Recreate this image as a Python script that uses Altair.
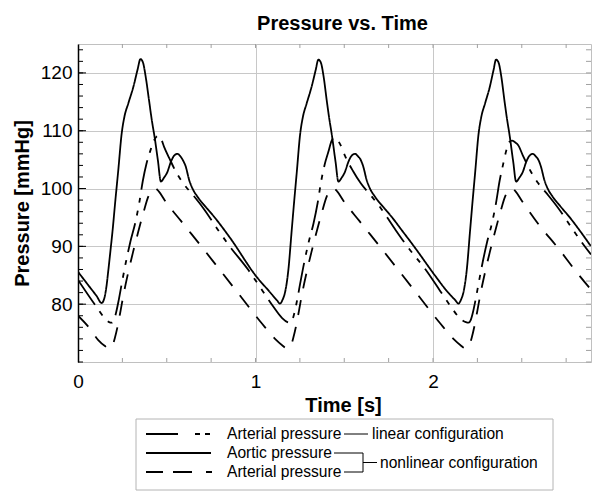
import altair as alt
import pandas as pd

# ---------------- data ----------------
aortic_t = [0.000, 0.060, 0.105, 0.133, 0.148, 0.160, 0.171, 0.183, 0.195, 0.210, 0.227, 0.246, 0.262, 0.283, 0.312,
            0.335, 0.352, 0.366, 0.382, 0.400, 0.415, 0.434, 0.450, 0.467, 0.485, 0.504, 0.523, 0.542, 0.560, 0.576,
            0.591, 0.607, 0.626, 0.645, 0.673, 0.720, 0.762, 0.856, 1.007, 1.075, 1.120,
            1.138, 1.153, 1.166, 1.185, 1.204, 1.217, 1.233, 1.251, 1.267, 1.288, 1.316, 1.339, 1.354, 1.368, 1.384,
            1.401, 1.416, 1.429, 1.451, 1.467, 1.486, 1.504, 1.523, 1.542, 1.561, 1.577, 1.592, 1.607, 1.626, 1.645,
            1.673, 1.720, 1.767, 1.824, 1.900, 2.010, 2.080, 2.125,
            2.143, 2.158, 2.171, 2.190, 2.209, 2.222, 2.238, 2.256, 2.272, 2.293, 2.320, 2.341, 2.355, 2.369, 2.385,
            2.402, 2.417, 2.430, 2.452, 2.468, 2.487, 2.506, 2.525, 2.544, 2.562, 2.578, 2.593, 2.608, 2.627, 2.646,
            2.674, 2.721, 2.768, 2.825, 2.890]
aortic_p = [85.6, 83.2, 81.4, 80.2, 81.0, 83.0, 85.9, 89.3, 92.8, 97.8, 103.2, 109.5, 112.5, 114.7, 117.6,
            120.5, 122.4, 121.8, 119.2, 115.3, 112.0, 108.4, 104.9, 101.2, 101.9, 102.9, 104.6, 105.7, 106.0, 105.6,
            104.9, 103.8, 101.5, 100.0, 98.6, 96.8, 95.3, 91.5, 84.7, 82.3, 80.7,
            80.1, 80.8, 82.0, 85.9, 92.8, 97.5, 103.0, 109.3, 112.4, 114.7, 117.6, 120.5, 122.3, 121.8, 119.3,
            115.3, 112.0, 109.5, 104.6, 101.2, 101.9, 102.9, 104.6, 105.7, 106.0, 105.6, 105.0, 103.8, 101.5, 100.0,
            98.6, 96.8, 95.1, 92.8, 89.7, 85.0, 82.2, 80.7,
            80.1, 80.8, 82.0, 85.9, 92.8, 97.5, 103.0, 109.3, 112.4, 114.7, 117.6, 120.5, 122.3, 121.8, 119.3,
            115.3, 112.0, 109.5, 104.6, 101.2, 101.9, 102.9, 104.6, 105.7, 106.0, 105.6, 105.0, 103.8, 101.5, 100.0,
            98.6, 96.8, 95.1, 92.8, 90.0]

art_nl_t = [0.000, 0.058, 0.114, 0.150, 0.170, 0.183, 0.195, 0.208, 0.222, 0.240, 0.258, 0.283, 0.310, 0.340,
            0.370, 0.396, 0.420, 0.437, 0.455, 0.490, 0.580, 0.700, 0.800, 0.920, 1.035, 1.110, 1.150,
            1.175, 1.188, 1.200, 1.213, 1.227, 1.245, 1.263, 1.288, 1.315, 1.345, 1.375, 1.401, 1.425, 1.442,
            1.460, 1.495, 1.585, 1.705, 1.805, 1.925, 2.040, 2.115, 2.155,
            2.180, 2.193, 2.205, 2.218, 2.232, 2.250, 2.268, 2.293, 2.320, 2.350, 2.380, 2.406, 2.430, 2.447,
            2.465, 2.500, 2.590, 2.710, 2.810, 2.890]
art_nl_p = [78.0, 76.1, 73.8, 72.8, 72.4, 72.4, 72.9, 74.2, 76.0, 78.9, 81.9, 85.5, 89.0, 92.6,
            96.0, 98.6, 99.8, 100.0, 99.5, 97.9, 94.4, 89.8, 85.9, 81.2, 76.7, 74.0, 72.9,
            72.4, 72.4, 72.9, 74.2, 76.0, 78.9, 81.9, 85.5, 89.0, 92.6, 96.0, 98.6, 99.8, 100.0,
            99.5, 97.9, 94.4, 89.8, 85.9, 81.2, 76.7, 74.0, 72.9,
            72.4, 72.4, 72.9, 74.2, 76.0, 78.9, 81.9, 85.5, 89.0, 92.6, 96.0, 98.6, 99.8, 100.0,
            99.5, 97.9, 94.0, 89.5, 85.5, 82.5]

art_lin_t = [0.000, 0.105, 0.150, 0.175, 0.190, 0.203, 0.215, 0.230, 0.248, 0.270, 0.295, 0.322, 0.345, 0.365,
             0.385, 0.405, 0.428, 0.450, 0.468, 0.485, 0.515, 0.550, 0.593, 0.650, 0.706, 0.790, 0.850, 0.960,
             1.040, 1.100, 1.150, 1.180,
             1.195, 1.208, 1.220, 1.235, 1.253, 1.275, 1.300, 1.327, 1.350, 1.370, 1.390, 1.410, 1.428, 1.443,
             1.460, 1.478, 1.505, 1.550, 1.593, 1.650, 1.706, 1.790, 1.850, 1.960, 2.040, 2.100, 2.150, 2.185,
             2.200, 2.213, 2.225, 2.240, 2.258, 2.280, 2.305, 2.332, 2.355, 2.375, 2.395, 2.412, 2.428, 2.445,
             2.462, 2.480, 2.505, 2.550, 2.593, 2.650, 2.706, 2.790, 2.850, 2.890]
art_lin_p = [84.2, 79.5, 77.6, 76.9, 76.8, 77.3, 78.6, 80.8, 83.8, 87.3, 90.8, 94.0, 97.5, 101.3,
             104.2, 106.3, 108.3, 109.1, 108.6, 107.2, 105.2, 103.0, 100.9, 98.8, 96.6, 92.8, 90.2, 85.9,
             82.3, 79.6, 77.6, 76.9,
             76.8, 77.3, 78.6, 80.8, 83.8, 87.3, 90.8, 94.0, 97.5, 101.3, 104.2, 106.3, 108.2, 108.8,
             108.5, 107.6, 105.6, 103.0, 100.9, 98.8, 96.6, 92.8, 90.2, 85.9, 82.3, 79.6, 77.6, 76.9,
             76.8, 77.3, 78.6, 80.8, 83.8, 87.3, 90.8, 94.0, 97.5, 101.3, 104.2, 106.5, 108.0, 108.3,
             108.0, 107.5, 105.8, 103.0, 100.9, 98.8, 96.6, 92.8, 90.2, 88.6]

series_names = ["Aortic pressure (nonlinear)", "Arterial pressure (nonlinear)", "Arterial pressure (linear)"]
y_major = [80, 90, 100, 110, 120]
x_major = [0, 1, 2]
y_minor = [70, 72, 74, 76, 78, 80, 82, 84, 86, 88, 90, 92, 94, 96, 98, 100, 102, 104, 106, 108, 110,
           112, 114, 116, 118, 120, 122, 124]
x_minor = [0.25, 0.5, 0.75, 1.0, 1.25, 1.5, 1.75, 2.0, 2.25, 2.5, 2.75]

# ---------------- build table ----------------
frames = []
for name, t, p in zip(series_names, [aortic_t, art_nl_t, art_lin_t], [aortic_p, art_nl_p, art_lin_p]):
    frames.append(pd.DataFrame({"t": t, "p": p, "series": name}))
df = pd.concat(frames, ignore_index=True)

W, H = 513, 318
FONT = "Liberation Sans"
GRID = "#c8c8c8"
x_scale = alt.Scale(domain=[0, 2.89], nice=False, zero=False)
y_scale = alt.Scale(domain=[70, 125], nice=False, zero=False)

x_axis = alt.Axis(values=x_major, grid=True, gridColor=GRID, ticks=False, domainColor="#c0c0c0",
                  labelFontSize=19, labelPadding=10, labelColor="black", format="d", labelFlush=False,
                  title="Time [s]", titleFontSize=20, titleFontWeight="bold", titleColor="black",
                  titleX=265, titleY=49, titleBaseline="alphabetic", titleAlign="center")
y_axis = alt.Axis(values=y_major, grid=True, gridColor=GRID, ticks=False, domainColor="black",
                  domainWidth=1.5, labelFontSize=19, labelPadding=6, labelColor="black", labelFlush=False,
                  title="Pressure [mmHg]", titleFontSize=20, titleFontWeight="bold", titleColor="black",
                  titleAngle=270, titleX=-56, titleY=H / 2, titleAlign="center", titleBaseline="middle")

dash_range = [[1, 0], [15, 12], [30, 8, 5, 8, 5, 8]]

lines = alt.Chart(df).mark_line(color="black", strokeWidth=1.8, interpolate="monotone", clip=True).encode(
    x=alt.X("t:Q", scale=x_scale, axis=x_axis),
    y=alt.Y("p:Q", scale=y_scale, axis=y_axis),
    strokeDash=alt.StrokeDash("series:N", scale=alt.Scale(domain=series_names, range=dash_range), legend=None),
    detail="series:N",
)

ymin_df = pd.DataFrame({"v": y_minor})
ymaj_df = pd.DataFrame({"v": y_major})
xmin_df = pd.DataFrame({"v": x_minor})

left_minor = alt.Chart(ymin_df).mark_rule(color="black", strokeWidth=1).encode(
    y=alt.Y("v:Q", scale=y_scale, axis=y_axis), x=alt.value(0), x2=alt.value(5))
left_major = alt.Chart(ymaj_df).mark_rule(color="black", strokeWidth=1).encode(
    y=alt.Y("v:Q", scale=y_scale, axis=y_axis), x=alt.value(0), x2=alt.value(8))
right_minor = alt.Chart(ymin_df).mark_rule(color="#a0a0a0", strokeWidth=1).encode(
    y=alt.Y("v:Q", scale=y_scale, axis=y_axis), x=alt.value(W - 5), x2=alt.value(W))
bottom_minor = alt.Chart(xmin_df).mark_rule(color="#a0a0a0", strokeWidth=1).encode(
    x=alt.X("v:Q", scale=x_scale, axis=x_axis), y=alt.value(H - 4), y2=alt.value(H))
top_minor = alt.Chart(xmin_df).mark_rule(color="#a0a0a0", strokeWidth=1).encode(
    x=alt.X("v:Q", scale=x_scale, axis=x_axis), y=alt.value(0), y2=alt.value(4))

# ---------------- legend (drawn below the plot) ----------------
one = pd.DataFrame({"k": [0]})
OX, OY = 78, 44  # plot origin in page pixels


def px(x):
    return x - OX


def py(y):
    return y - OY


R1, R2, R3 = 434, 453, 472
legend_box = alt.Chart(one).mark_rect(fill="white", stroke="#b4b4b4", strokeWidth=1).encode(
    x=alt.value(px(136)), x2=alt.value(px(553)), y=alt.value(py(419)), y2=alt.value(py(490)))


def hline(x1, x2, y, dash=None, w=1.8):
    kw = dict(color="black", strokeWidth=w)
    if dash is not None:
        kw["strokeDash"] = dash
    return alt.Chart(one).mark_rule(**kw).encode(
        x=alt.value(px(x1)), x2=alt.value(px(x2)), y=alt.value(py(y)))


def vline(x, y1, y2, w=1):
    return alt.Chart(one).mark_rule(color="black", strokeWidth=w).encode(
        x=alt.value(px(x)), y=alt.value(py(y1)), y2=alt.value(py(y2)))


leg_samples = [
    hline(146, 211, R1, dash=[32, 17, 5, 5, 5, 30]),
    hline(146, 211, R2),
    hline(146, 212, R3, dash=[17, 10, 19, 14, 6, 20]),
]
BX = 363
leg_connectors = [
    hline(344, 368, R1, w=1),
    hline(334, BX, R2, w=1),
    hline(344, BX, R3, w=1),
    vline(BX, R2, R3),
    hline(BX, 377, (R2 + R3) / 2, w=1),
]

leg_text_df = pd.DataFrame({
    "label": ["Arterial pressure", "Aortic pressure", "Arterial pressure", "linear configuration",
              "nonlinear configuration"],
    "xp": [px(227), px(227), px(227), px(372), px(380)],
    "yp": [py(R1), py(R2), py(R3), py(R1), py((R2 + R3) / 2)],
})
leg_text = alt.Chart(leg_text_df).mark_text(align="left", baseline="middle", fontSize=15.6, font=FONT,
                                              color="black").encode(
    x=alt.X("xp:Q", scale=None), y=alt.Y("yp:Q", scale=None), text="label:N")

chart = alt.layer(
    lines, left_minor, left_major, right_minor, bottom_minor, top_minor,
    legend_box, *leg_samples, *leg_connectors, leg_text
).properties(
    width=W, height=H,
    title=alt.TitleParams("Pressure vs. Time", fontSize=20, fontWeight="bold", font=FONT, color="black",
                          anchor="middle", frame="group", dx=8, offset=-6, baseline="alphabetic"),
    autosize=alt.AutoSizeParams(type="none"),
    padding={"left": OX, "top": OY, "right": 592 - OX - W, "bottom": 494 - OY - H},
).configure(font=FONT).configure_view(stroke="#c0c0c0", strokeWidth=1)

chart.save("out.html", embed_options={"renderer": "svg", "actions": False})
